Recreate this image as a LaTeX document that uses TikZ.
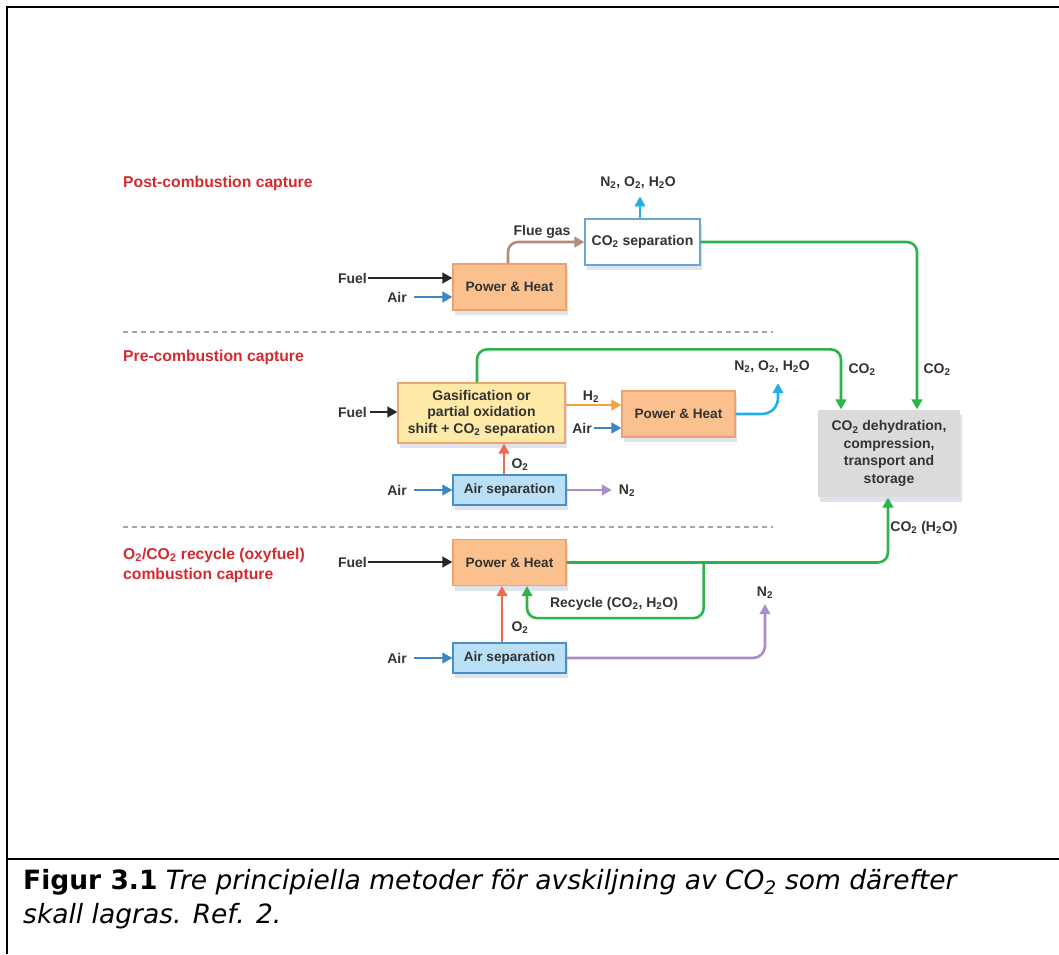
\documentclass[tikz,border=0pt]{standalone}
\usepackage{fontspec}
\setmainfont{Liberation Sans}
\newfontfamily\capfont{DejaVu Sans}
\usetikzlibrary{arrows.meta,shadows,calc}
\definecolor{txt}{HTML}{333333}
\definecolor{redlbl}{HTML}{D42A30}
\definecolor{phfill}{HTML}{FAC08E}
\definecolor{phdraw}{HTML}{EFA070}
\definecolor{gasfill}{HTML}{FFE9A6}
\definecolor{gasdraw}{HTML}{F2A468}
\definecolor{asfill}{HTML}{B9E0F6}
\definecolor{asdraw}{HTML}{4A8FC8}
\definecolor{csdraw}{HTML}{6AA6D8}
\definecolor{stfill}{HTML}{DDDBD9}
\definecolor{grn}{HTML}{2DB34A}
\definecolor{cyn}{HTML}{22AEE8}
\definecolor{airblue}{HTML}{3C86C6}
\definecolor{brn}{HTML}{B48C78}
\definecolor{h2org}{HTML}{F5A040}
\definecolor{o2red}{HTML}{EE6A4A}
\definecolor{purp}{HTML}{A98CC8}
\definecolor{shd}{HTML}{8FA8C8}
\tikzset{
  lbl/.style={font=\fontsize{14}{16}\selectfont\bfseries, text=txt, inner sep=1pt},
  redl/.style={font=\fontsize{15.7}{20}\selectfont\bfseries, text=redlbl, inner sep=0pt, anchor=west, align=left},
  boxbase/.style={lbl, draw, line width=1.2pt, align=center, inner sep=2pt,
    drop shadow={shadow xshift=1.5pt, shadow yshift=-5pt, fill=shd, opacity=0.3}},
  phbox/.style={boxbase, fill=phfill, draw=phdraw, minimum width=113, minimum height=46, font=\fontsize{13.6}{16}\selectfont\bfseries},
  asbox/.style={boxbase, fill=asfill, draw=asdraw, minimum width=113, minimum height=30, font=\fontsize{13.6}{16}\selectfont\bfseries},
  arr/.style={line width=2.6pt, -{Triangle[length=10pt,width=10.5pt]}},
  sep/.style={draw=gray!70, line width=1.3pt, dash pattern=on 5pt off 4pt},
  captxt/.style={font=\capfont\fontsize{26.5}{30}\selectfont, anchor=base west, inner sep=0pt, text=black},
}
\begin{document}
\begin{tikzpicture}[x=1pt,y=-1pt]
\useasboundingbox (0,0) rectangle (1059,954);
\fill[white] (0,0) rectangle (1059,954);
% frame
\draw[line width=2.5pt] (7,954) -- (7,7) -- (1059,7);
\draw[line width=2pt] (7,859) -- (1059,859);

% section labels
\node[redl] (lpost) at (123,183) {Post-combustion capture};
\node[redl] (lpre) at (123,357) {Pre-combustion capture};
\node[redl] (loxy) at (123,565) {O\textsubscript{2}/CO\textsubscript{2} recycle (oxyfuel)\\combustion capture};

% separators
\draw[sep] (123,332) -- (773,332);
\draw[sep] (123,527) -- (773,527);

% ---------- Post-combustion ----------
\node[phbox] (ph1) at (509.5,287) {Power \& Heat};
\node[boxbase, fill=white, draw=csdraw, minimum width=115, minimum height=46] (cosep) at (642.5,242) {CO\textsubscript{2} separation};
\node[lbl, anchor=east] (fuel1) at (368,278) {Fuel};
\node[lbl, anchor=east] (air1) at (408,297) {Air};
\node[lbl] (flue) at (542,232) {Flue gas};
\node[lbl] (n2a) at (638,183) {N\textsubscript{2}, O\textsubscript{2}, H\textsubscript{2}O};
\node[lbl] (co2a) at (937,370) {CO\textsubscript{2}};

% ---------- Pre-combustion ----------
\node[boxbase, fill=gasfill, draw=gasdraw, minimum width=167, minimum height=60, font=\fontsize{14}{16.5}\selectfont\bfseries] (gas) at (481.5,413) {Gasification or\\partial oxidation\\shift + CO\textsubscript{2} separation};
\node[phbox] (ph2) at (678.5,414) {Power \& Heat};
\node[asbox] (as2) at (509.5,490) {Air separation};
\node[boxbase, fill=stfill, draw=none, minimum width=142, minimum height=87, font=\fontsize{14}{17.5}\selectfont\bfseries] (store) at (889,453.5) {CO\textsubscript{2} dehydration,\\compression,\\transport and\\storage};
\node[lbl, anchor=east] (fuel2) at (368,412) {Fuel};
\node[lbl] (h2) at (591,397) {H\textsubscript{2}};
\node[lbl, anchor=east] (air2) at (593,428) {Air};
\node[lbl] (n2b) at (772,367) {N\textsubscript{2}, O\textsubscript{2}, H\textsubscript{2}O};
\node[lbl] (co2b) at (862,370) {CO\textsubscript{2}};
\node[lbl] (o2b) at (520,465) {O\textsubscript{2}};
\node[lbl, anchor=east] (air3) at (408,490) {Air};
\node[lbl] (n2c) at (627,491) {N\textsubscript{2}};

% ---------- Oxyfuel ----------
\node[phbox] (ph3) at (509.5,562.5) {Power \& Heat};
\node[asbox] (as3) at (509.5,658) {Air separation};
\node[lbl, anchor=east] (fuel3) at (368,562) {Fuel};
\node[lbl, anchor=east] (air4) at (408,658) {Air};
\node[lbl] (co2c) at (924,528) {CO\textsubscript{2} (H\textsubscript{2}O)};
\node[lbl] (rec) at (614,604) {Recycle (CO\textsubscript{2}, H\textsubscript{2}O)};
\node[lbl] (o2c) at (520,628) {O\textsubscript{2}};
\node[lbl] (n2d) at (765,593) {N\textsubscript{2}};

% ---------- connectors: post ----------
\draw[arr, black!85] (fuel1.east) -- (ph1.west |- fuel1.east);
\draw[arr, airblue] ($(air1.east)+(6,0)$) -- (ph1.west |- air1.east);
\draw[arr, brn, rounded corners=10pt] ($(ph1.north)+(-1.5,0)$) |- (cosep.west);
\draw[arr, cyn] ($(cosep.north)+(-2.5,0)$) -- ++(0,-22);
\draw[arr, grn, rounded corners=10pt] (cosep.east) -| ($(store.north)+(28,0)$);

% ---------- connectors: pre ----------
\draw[arr, black!85] ($(fuel2.east)+(2,0)$) -- (gas.west |- fuel2.east);
\draw[arr, grn, rounded corners=10pt] ($(gas.north)+(-4.5,0)$) -- ++(0,-33) -| ($(store.north)+(-48,0)$);
\draw[arr, h2org] ($(gas.east)+(0,-8)$) -- ($(ph2.west)+(0,-9)$);
\draw[arr, airblue] ($(air2.east)+(1,0)$) -- (ph2.west |- air2.east);
\draw[arr, cyn, rounded corners=16pt] (ph2.east) -| ($(n2b.south)+(6,9)$);
\draw[arr, o2red] ($(as2.north)+(-5.5,0)$) -- ($(gas.south)+(22.5,0)$);
\draw[arr, airblue] ($(air3.east)+(6,0)$) -- (as2.west);
\draw[arr, purp] (as2.east) -- ($(as2.east -| n2c.west)+(-6,0)$);

% ---------- connectors: oxyfuel ----------
\draw[arr, black!85] (fuel3.east) -- (ph3.west |- fuel3.east);
\draw[arr, airblue] ($(air4.east)+(6,0)$) -- (as3.west);
\draw[arr, grn, rounded corners=10pt] (ph3.east) -| ($(store.south)+(-1,0)$);
\coordinate (br) at ($(ph3.east)+(137,0)$);
\draw[arr, grn, rounded corners=10pt] (br) |- ($(ph3.south)+(17.5,32)$) -- ($(ph3.south)+(17.5,0)$);
\draw[arr, o2red] ($(as3.north)+(-7.5,0)$) -- ($(ph3.south)+(-7.5,0)$);
\draw[arr, purp, rounded corners=12pt] (as3.east) -| ($(n2d.south)+(0,4)$);

% caption
\node[captxt] (cap1) at (23,889) {\textbf{Figur 3.1} \textit{Tre principiella metoder för avskiljning av CO\textsubscript{2} som därefter}};
\node[captxt] (cap2) at (23,923) {\textit{skall lagras. Ref. 2.}};
\end{tikzpicture}
\end{document}
